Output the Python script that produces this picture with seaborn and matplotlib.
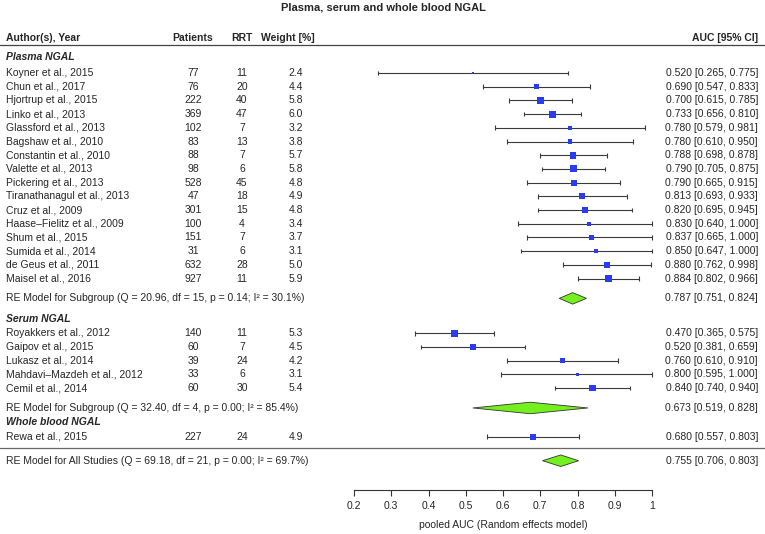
import numpy as np
import pandas as pd
import matplotlib
matplotlib.use("Agg")
import matplotlib.pyplot as plt
import seaborn as sns

# ---------------- data ----------------
authors = ["Koyner et al., 2015", "Chun et al., 2017", "Hjortrup et al., 2015", "Linko et al., 2013",
           "Glassford et al., 2013", "Bagshaw et al., 2010", "Constantin et al., 2010", "Valette et al., 2013",
           "Pickering et al., 2013", "Tiranathanagul et al., 2013", "Cruz et al., 2009", "Haase\u2013Fielitz et al., 2009",
           "Shum et al., 2015", "Sumida et al., 2014", "de Geus et al., 2011", "Maisel et al., 2016",
           "Royakkers et al., 2012", "Gaipov et al., 2015", "Lukasz et al., 2014", "Mahdavi\u2013Mazdeh et al., 2012",
           "Cemil et al., 2014",
           "Rewa et al., 2015"]
groups = ["Plasma NGAL"] * 16 + ["Serum NGAL"] * 5 + ["Whole blood NGAL"]
patients = [77, 76, 222, 369, 102, 83, 88, 98, 528, 47, 301, 100, 151, 31, 632, 927,
            140, 60, 39, 33, 60, 227]
rrt = [11, 20, 40, 47, 7, 13, 7, 6, 45, 18, 15, 4, 7, 6, 28, 11,
       11, 7, 24, 6, 30, 24]
weights = [2.4, 4.4, 5.8, 6.0, 3.2, 3.8, 5.7, 5.8, 4.8, 4.9, 4.8, 3.4, 3.7, 3.1, 5.0, 5.9,
           5.3, 4.5, 4.2, 3.1, 5.4, 4.9]
auc = [0.520, 0.690, 0.700, 0.733, 0.780, 0.780, 0.788, 0.790, 0.790, 0.813, 0.820, 0.830, 0.837, 0.850, 0.880, 0.884,
       0.470, 0.520, 0.760, 0.800, 0.840, 0.680]
lower = [0.265, 0.547, 0.615, 0.656, 0.579, 0.610, 0.698, 0.705, 0.665, 0.693, 0.695, 0.640, 0.665, 0.647, 0.762, 0.802,
         0.365, 0.381, 0.610, 0.595, 0.740, 0.557]
upper = [0.775, 0.833, 0.785, 0.810, 0.981, 0.950, 0.878, 0.875, 0.915, 0.933, 0.945, 1.000, 1.000, 1.000, 0.998, 0.966,
         0.575, 0.659, 0.910, 1.000, 0.940, 0.803]

summary_labels = ["RE Model for Subgroup (Q = 20.96, df = 15, p = 0.14; I\u00b2 = 30.1%)",
                  "RE Model for Subgroup (Q = 32.40, df = 4, p = 0.00; I\u00b2 = 85.4%)",
                  "RE Model for All Studies (Q = 69.18, df = 21, p = 0.00; I\u00b2 = 69.7%)"]
summary_est = [0.787, 0.673, 0.755]
summary_lb = [0.751, 0.519, 0.706]
summary_ub = [0.824, 0.828, 0.803]

tick_values = [0.2, 0.3, 0.4, 0.5, 0.6, 0.7, 0.8, 0.9, 1.0]
tick_labels = ["0.2", "0.3", "0.4", "0.5", "0.6", "0.7", "0.8", "0.9", "1"]

# ---------------- layout (row units) ----------------
study_rows = list(range(0, 16)) + list(range(19, 24)) + [26.55]
group_rows = {"Plasma NGAL": -1.17, "Serum NGAL": 17.95, "Whole blood NGAL": 25.5}
summary_rows = [16.45, 24.45, 28.3]
header_row = -2.55
header_line = -2.05
sep_line = 27.4
axis_row = 30.45

df = pd.DataFrame({"author": authors, "group": groups, "patients": patients, "rrt": rrt,
                   "weight": weights, "auc": auc, "lower": lower, "upper": upper, "row": study_rows})

sns.set_style("white")
plt.rcParams['font.family'] = ['Liberation Sans', 'DejaVu Sans']
fig = plt.figure(figsize=(7.65, 5.34), dpi=100)
ax = fig.add_axes([0, 0, 1, 1])

PX0, PXU = 354.0, 372.5  # pixel of 0.2, pixels per unit


def px2x(px):
    return 0.2 + (px - PX0) / PXU


ax.set_xlim(px2x(0), px2x(765))
ax.set_ylim(33.65, -5.33)

blue = "#2a3cf2"
green = "#74f01e"
lc = "#3a3a3a"
fs = 7.5

# CIs
ax.hlines(df["row"], df["lower"], df["upper"], color=lc, lw=0.8, zorder=1)
ax.vlines(df["lower"], df["row"] - 0.17, df["row"] + 0.17, color=lc, lw=0.8, zorder=1)
ax.vlines(df["upper"], df["row"] - 0.17, df["row"] + 0.17, color=lc, lw=0.8, zorder=1)

# squares
sns.scatterplot(data=df, x="auc", y="row", size="weight", sizes=(2.2, 27), size_norm=(2.4, 6.0),
                marker="s", color=blue, edgecolor="none", legend=False, ax=ax, zorder=3)

# diamonds
for r, e, lb, ub in zip(summary_rows, summary_est, summary_lb, summary_ub):
    ax.fill([lb, e, ub, e], [r, r - 0.42, r, r + 0.42], facecolor=green, edgecolor="#333333", lw=0.6, zorder=2)

# text columns
x_author = px2x(6)
x_pat = px2x(193)
x_rrt = px2x(242)
x_w_head = px2x(288)
x_w = px2x(296)
x_right = px2x(758)

ax.text(px2x(383), -4.75, "Plasma, serum and whole blood NGAL", ha="center", va="center",
        fontsize=8.0, fontweight="bold")
ax.text(x_author, header_row, "Author(s), Year", ha="left", va="center", fontsize=fs, fontweight="bold")
ax.text(x_pat, header_row, "Patients", ha="center", va="center", fontsize=fs, fontweight="bold")
ax.text(x_rrt, header_row, "RRT", ha="center", va="center", fontsize=fs, fontweight="bold")
ax.text(x_w_head, header_row, "Weight [%]", ha="center", va="center", fontsize=fs, fontweight="bold")
ax.text(x_right, header_row, "AUC [95% CI]", ha="right", va="center", fontsize=fs, fontweight="bold")

for g, r in group_rows.items():
    ax.text(x_author, r, g, ha="left", va="center", fontsize=fs, fontweight="bold", fontstyle="italic")

for _, d in df.iterrows():
    r = d["row"]
    ax.text(x_author, r, d["author"], ha="left", va="center", fontsize=fs)
    ax.text(x_pat, r, f"{d['patients']}", ha="center", va="center", fontsize=fs)
    ax.text(x_rrt, r, f"{d['rrt']}", ha="center", va="center", fontsize=fs)
    ax.text(x_w, r, f"{d['weight']:.1f}", ha="center", va="center", fontsize=fs)
    ax.text(x_right, r, f"{d['auc']:.3f} [{d['lower']:.3f}, {d['upper']:.3f}]", ha="right", va="center", fontsize=fs)

for lab, r, e, lb, ub in zip(summary_labels, summary_rows, summary_est, summary_lb, summary_ub):
    ax.text(x_author, r, lab, ha="left", va="center", fontsize=fs)
    ax.text(x_right, r, f"{e:.3f} [{lb:.3f}, {ub:.3f}]", ha="right", va="center", fontsize=fs)

ax.axhline(header_line, color="#444444", lw=0.9)
ax.axhline(sep_line, color="#666666", lw=0.9)

# x axis
for s in ["top", "left", "right"]:
    ax.spines[s].set_visible(False)
ax.spines["bottom"].set_position(("data", axis_row))
ax.spines["bottom"].set_bounds(0.2, 1.0)
ax.spines["bottom"].set_color("#333333")
ax.spines["bottom"].set_linewidth(0.8)
ax.set_xticks(tick_values)
ax.set_xticklabels(tick_labels, fontsize=fs)
ax.tick_params(axis="x", direction="out", length=4, width=0.8, color="#333333", pad=4, bottom=True)
ax.set_yticks([])
ax.set_xlabel("")
ax.set_ylabel("")
ax.text(0.6, 33.0, "pooled AUC (Random effects model)", ha="center", va="center", fontsize=fs)

fig.savefig("out.png", dpi=100)
